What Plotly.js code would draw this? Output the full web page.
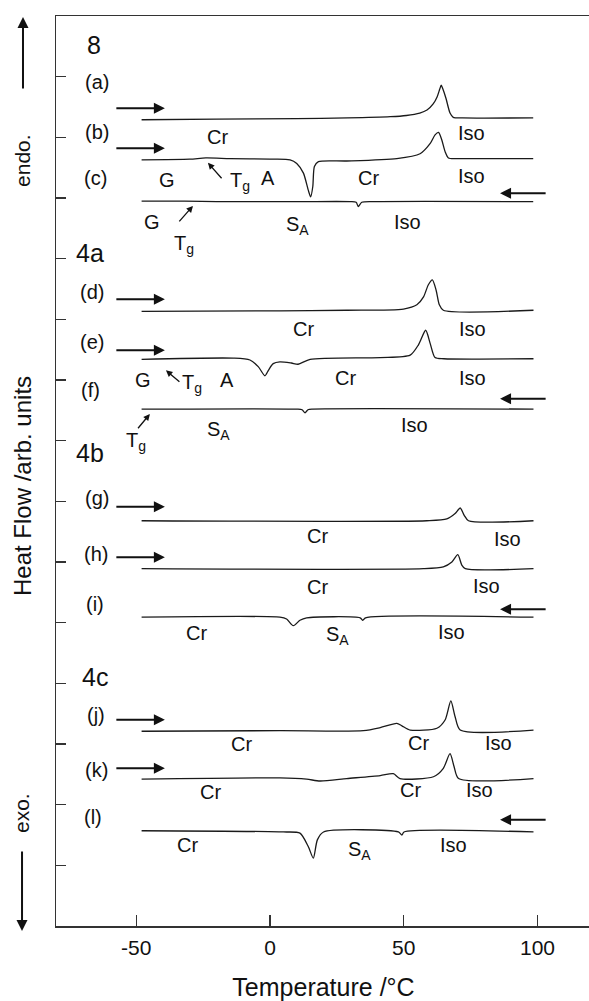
<!DOCTYPE html>
<html>
<head>
<meta charset="utf-8">
<script src="https://cdn.plot.ly/plotly-3.0.1.min.js"></script>
<style>
html,body{margin:0;padding:0;overflow:hidden;background:#fff;}
#chart{width:600px;height:1001px;}
</style>
</head>
<body>
<div id="chart"></div>
<script>
// ---- DSC curves: temperature (°C) and heat flow (arb. units, offset stacked) ----
const tA = [-48, -20, 10, 29, 45, 51, 56, 58.7, 61, 62.5, 63.5, 64, 64.6, 65.8, 67.3, 68.5, 72, 98.4];
const hfA = [13.29, 13.30, 13.31, 13.32, 13.34, 13.36, 13.40, 13.45, 13.55, 13.67, 13.80, 13.86, 13.80, 13.64, 13.40, 13.33, 13.32, 13.32];

const tB = [-48, -30, -24, -15, 0, 7.5, 10, 12.5, 14.3, 15.2, 16, 16.6, 18.1, 28.7, 47.4, 56.1, 59.9, 61.7, 63, 64.2, 65.5, 66.7, 70, 98.4];
const hfB = [12.63, 12.64, 12.66, 12.65, 12.64, 12.63, 12.57, 12.41, 12.13, 12.02, 12.19, 12.52, 12.60, 12.61, 12.65, 12.73, 12.90, 13.04, 13.08, 12.96, 12.76, 12.66, 12.65, 12.65];

const tC = [-48, -32, -20, 11, 30, 32.2, 33, 34.3, 40, 98.4];
const hfC = [11.95, 11.95, 11.94, 11.94, 11.94, 11.93, 11.86, 11.93, 11.94, 11.94];

const tD = [-48, 3.7, 28.7, 49.9, 54.9, 57.4, 59.2, 60.7, 62.1, 63.3, 64.8, 98.5];
const hfD = [10.13, 10.14, 10.15, 10.17, 10.24, 10.37, 10.57, 10.65, 10.48, 10.24, 10.15, 10.15];

const tE = [-48, -13.7, -7.5, -4.4, -1.9, -0.6, 1.2, 3.7, 8, 10.5, 15, 41.2, 52.4, 55.5, 58.2, 59.9, 61.7, 65, 98.5];
const hfE = [9.34, 9.36, 9.33, 9.22, 9.07, 9.16, 9.27, 9.30, 9.28, 9.26, 9.34, 9.37, 9.41, 9.58, 9.82, 9.60, 9.37, 9.35, 9.35];

const tF = [-48, 10, 12, 13.1, 14.2, 16, 98.5];
const hfF = [8.52, 8.52, 8.51, 8.46, 8.51, 8.52, 8.52];

const tG = [-48, 58.6, 66.1, 69.2, 71.1, 72.6, 74.2, 98.5];
const hfG = [6.68, 6.68, 6.71, 6.80, 6.89, 6.77, 6.68, 6.68];

const tH = [-48, 57.4, 64.8, 68, 70.2, 71.7, 73, 98.5];
const hfH = [5.89, 5.89, 5.92, 6.00, 6.12, 5.95, 5.89, 5.89];

const tI = [-48, 3.7, 6.2, 8.7, 11.2, 13.7, 33.7, 34.7, 35.7, 98.5];
const hfI = [5.09, 5.09, 5.06, 4.95, 5.04, 5.08, 5.08, 5.04, 5.08, 5.09];

const tJ = [-48, 3.7, 34.9, 41.2, 47.4, 49.3, 52.4, 62.4, 65.5, 67.6, 69.2, 71.1, 98.5];
const hfJ = [3.21, 3.22, 3.22, 3.27, 3.34, 3.30, 3.23, 3.26, 3.40, 3.71, 3.45, 3.23, 3.23];

const tK = [-48, 3.7, 13.7, 18.7, 28.7, 41.2, 46.1, 48.6, 61.1, 64.8, 67.3, 68.8, 70.5, 98.5];
const hfK = [2.42, 2.44, 2.42, 2.39, 2.43, 2.48, 2.51, 2.43, 2.46, 2.60, 2.84, 2.63, 2.43, 2.43];

const tL = [-48, 5, 11.2, 14.3, 16.2, 17.7, 20, 48, 49.3, 50.1, 98.5];
const hfL = [1.57, 1.55, 1.53, 1.31, 1.12, 1.42, 1.55, 1.55, 1.50, 1.55, 1.55];

// ---- Axis ticks ----
const xTickVals = [-50, 0, 50, 100];
const xTickText = ['-50', '0', '50', '100'];
const yTickVals = [1, 2, 3, 4, 5, 6, 7, 8, 9, 10, 11, 12, 13, 14];

// ---- Sample / compound labels ----
const curveLabels = ['8', '(a)', '(b)', '(c)', '4a', '(d)', '(e)', '(f)', '4b', '(g)', '(h)', '(i)', '4c', '(j)', '(k)', '(l)'];
const curveLabelT = [-65.8, -64.7, -64.7, -65.1, -67.3, -66.6, -66.6, -67.0, -67.3, -64.7, -65.1, -65.5, -65.5, -65.1, -64.7, -66.2];
const curveLabelHF = [14.52, 13.91, 13.09, 12.33, 11.09, 10.45, 9.63, 8.83, 7.80, 7.05, 6.13, 5.31, 4.10, 3.48, 2.57, 1.80];

// ---- Phase labels ----
const phaseText = ['Cr', 'Iso', 'G', 'T<sub>g</sub>', 'A', 'Cr', 'Iso', 'G', 'T<sub>g</sub>', 'S<sub>A</sub>', 'Iso',
  'Cr', 'Iso', 'G', 'T<sub>g</sub>', 'A', 'Cr', 'Iso', 'T<sub>g</sub>', 'S<sub>A</sub>', 'Iso',
  'Cr', 'Iso', 'Cr', 'Iso', 'Cr', 'S<sub>A</sub>', 'Iso',
  'Cr', 'Cr', 'Iso', 'Cr', 'Cr', 'Iso', 'Cr', 'S<sub>A</sub>', 'Iso'];
const phaseT = [-19.5, 75.2, -38.5, -11.2, -0.7, 37.0, 75.2, -44.1, -32.2, 10.1, 51.3,
  12.7, 75.6, -47.5, -29.2, -16.1, 28.1, 75.6, -50.1, -19.1, 54.2,
  17.6, 88.7, 17.6, 80.8, -27.3, 25.1, 67.7,
  -10.8, 55.4, 85.3, -22.1, 52.4, 78.2, -30.7, 33.3, 68.5];
const phaseHF = [13.00, 13.07, 12.30, 12.28, 12.33, 12.33, 12.36, 11.60, 11.24, 11.55, 11.60,
  9.84, 9.84, 9.00, 8.95, 9.00, 9.03, 9.03, 7.99, 8.17, 8.26,
  6.43, 6.38, 5.59, 5.60, 4.83, 4.79, 4.85,
  3.00, 3.02, 3.02, 2.21, 2.24, 2.24, 1.34, 1.25, 1.34];

// ---- Heating (right) / cooling (left) direction arrows ----
const heatArrowHF = [13.48, 12.82, 10.33, 9.49, 6.91, 6.08, 3.40, 2.60];
const heatArrowFrom = -58, heatArrowTo = -39.3;
const coolArrowHF = [12.08, 8.69, 5.22, 1.75];
const coolArrowFrom = 103.6, coolArrowTo = 86;

// ---- Tg pointer arrows ----
const tgTipT = [-23.2, -28.8, -38.9, -44.9];
const tgTipHF = [12.58, 11.87, 9.16, 8.44];
const tgTailT = [-17.6, -34.4, -33.3, -49.8];
const tgTailHF = [12.30, 11.59, 8.95, 8.18];

const FONT = 'Liberation Sans, Arial, Helvetica, sans-serif';
const INK = '#111111';

const curves = [[tA, hfA], [tB, hfB], [tC, hfC], [tD, hfD], [tE, hfE], [tF, hfF],
  [tG, hfG], [tH, hfH], [tI, hfI], [tJ, hfJ], [tK, hfK], [tL, hfL]];
const names = ['a', 'b', 'c', 'd', 'e', 'f', 'g', 'h', 'i', 'j', 'k', 'l'];

const traces = curves.map((c, i) => ({
  type: 'scatter', mode: 'lines', x: c[0], y: c[1], name: names[i],
  line: {color: '#1a1a1a', width: 1.3, shape: 'spline', smoothing: 0.7},
  hoverinfo: 'skip'
}));

const annotations = [];
curveLabels.forEach((t, i) => {
  const big = /^[0-9]/.test(t);
  annotations.push({x: curveLabelT[i], y: curveLabelHF[i], xref: 'x', yref: 'y', text: t,
    xanchor: 'center', yanchor: 'middle',
    showarrow: false, font: {family: FONT, size: big ? 25 : 20, color: INK}});
});
phaseText.forEach((t, i) => {
  annotations.push({x: phaseT[i], y: phaseHF[i], xref: 'x', yref: 'y', text: t,
    xanchor: 'center', yanchor: 'middle',
    showarrow: false, font: {family: FONT, size: 20, color: INK}});
});
heatArrowHF.forEach(v => {
  annotations.push({x: heatArrowTo, y: v, ax: heatArrowFrom, ay: v, xref: 'x', yref: 'y',
    axref: 'x', ayref: 'y', text: '', showarrow: true, arrowhead: 2, arrowsize: 1.1,
    arrowwidth: 2, arrowcolor: INK, standoff: 0, startstandoff: 0});
});
coolArrowHF.forEach(v => {
  annotations.push({x: coolArrowTo, y: v, ax: coolArrowFrom, ay: v, xref: 'x', yref: 'y',
    axref: 'x', ayref: 'y', text: '', showarrow: true, arrowhead: 2, arrowsize: 1.1,
    arrowwidth: 2, arrowcolor: INK, standoff: 0, startstandoff: 0});
});
tgTipT.forEach((v, i) => {
  annotations.push({x: v, y: tgTipHF[i], ax: tgTailT[i], ay: tgTailHF[i], xref: 'x', yref: 'y',
    axref: 'x', ayref: 'y', text: '', showarrow: true, arrowhead: 2, arrowsize: 1,
    arrowwidth: 1.3, arrowcolor: INK, standoff: 0});
});
// endo / exo direction marks and y title (outside the plot, left)
annotations.push({x: -0.0617, y: 0.999, xref: 'paper', yref: 'paper', ax: 0, ay: 73, text: '',
  showarrow: true, arrowhead: 2, arrowsize: 1.1, arrowwidth: 2, arrowcolor: INK, standoff: 0});
annotations.push({x: -0.0635, y: -0.0055, xref: 'paper', yref: 'paper', ax: 0, ay: -81, text: '',
  showarrow: true, arrowhead: 2, arrowsize: 1.1, arrowwidth: 2, arrowcolor: INK, standoff: 0});
annotations.push({x: -0.0617, y: 0.8418, xref: 'paper', yref: 'paper', text: 'endo.', textangle: -90,
  xanchor: 'center', yanchor: 'middle',
  showarrow: false, font: {family: FONT, size: 21, color: INK}});
annotations.push({x: -0.0635, y: 0.1242, xref: 'paper', yref: 'paper', text: 'exo.', textangle: -90,
  xanchor: 'center', yanchor: 'middle',
  showarrow: false, font: {family: FONT, size: 21, color: INK}});
annotations.push({x: -0.0635, y: 0.4835, xref: 'paper', yref: 'paper', text: 'Heat Flow /arb. units', textangle: -90,
  xanchor: 'center', yanchor: 'middle',
  showarrow: false, font: {family: FONT, size: 24, color: INK}});

const layout = {
  width: 600, height: 1001,
  margin: {l: 56, r: 9, t: 16, b: 75, pad: 0},
  paper_bgcolor: '#ffffff', plot_bgcolor: '#ffffff',
  showlegend: false,
  font: {family: FONT, color: INK},
  xaxis: {
    range: [-80, 120], showgrid: false, zeroline: false,
    showline: true, linecolor: '#333333', linewidth: 1.5, mirror: true,
    ticks: 'inside', ticklen: 11, tickwidth: 1.2, tickcolor: '#333333',
    tickvals: xTickVals, ticktext: xTickText, ticklabelstandoff: 2,
    tickfont: {family: FONT, size: 21, color: INK},
    title: {text: 'Temperature /°C', font: {family: FONT, size: 25, color: INK}, standoff: 22}
  },
  yaxis: {
    range: [0, 15], showgrid: false, zeroline: false,
    showline: true, linecolor: '#333333', linewidth: 1.5,
    ticks: 'inside', ticklen: 10, tickwidth: 1.2, tickcolor: '#333333',
    tickvals: yTickVals, showticklabels: false
  },
  annotations: annotations
};

Plotly.newPlot('chart', traces, layout, {staticPlot: true, displayModeBar: false});
</script>
</body>
</html>
